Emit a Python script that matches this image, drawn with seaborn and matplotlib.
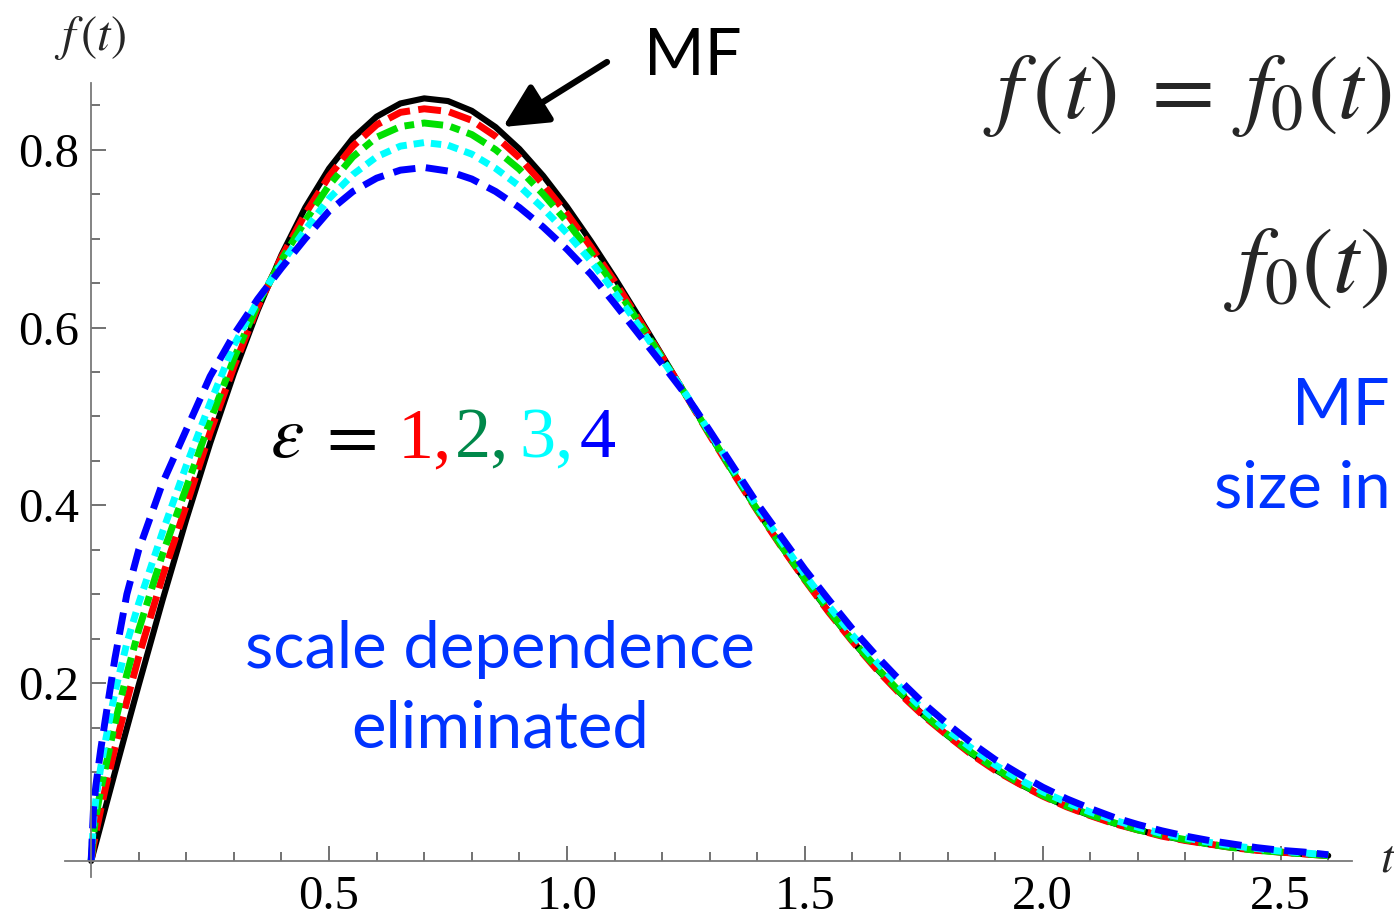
import numpy as np
import pandas as pd
import matplotlib
matplotlib.use("Agg")
import matplotlib.pyplot as plt
from matplotlib.ticker import FixedLocator, FormatStrFormatter
import seaborn as sns

# ---------------- data ----------------
t = [0.0, 0.005, 0.01, 0.02, 0.03, 0.05, 0.075, 0.1, 0.15, 0.2, 0.25, 0.3, 0.35,
     0.4, 0.45, 0.5, 0.55, 0.6, 0.65, 0.7, 0.75, 0.8, 0.85, 0.9, 0.95, 1.0,
     1.05, 1.1, 1.15, 1.2, 1.25, 1.3, 1.35, 1.4, 1.45, 1.5, 1.55, 1.6, 1.65,
     1.7, 1.75, 1.8, 1.85, 1.9, 1.95, 2.0, 2.05, 2.1, 2.15, 2.2, 2.25, 2.3,
     2.35, 2.4, 2.45, 2.5, 2.55, 2.6]

f_mf = [0.0, 0.010, 0.020, 0.040, 0.060, 0.0998, 0.1492, 0.198, 0.2933, 0.3843, 0.4697, 0.5483, 0.6193,
        0.6817, 0.7350, 0.7788, 0.8129, 0.8372, 0.8520, 0.8577, 0.8547, 0.8437, 0.8254, 0.8008, 0.7706, 0.7358,
        0.6972, 0.6561, 0.6129, 0.5686, 0.5240, 0.4797, 0.4364, 0.3944, 0.3543, 0.3162, 0.2806, 0.2473, 0.2168,
        0.1890, 0.1637, 0.1410, 0.1207, 0.1028, 0.0870, 0.0733, 0.0613, 0.0511, 0.0423, 0.0348, 0.0285, 0.0232,
        0.0188, 0.0151, 0.0121, 0.0097, 0.0077, 0.0060]

f_eps1 = [0.0, 0.018, 0.032, 0.058, 0.082, 0.127, 0.180, 0.230, 0.320, 0.400, 0.482, 0.556, 0.623,
          0.679, 0.728, 0.770, 0.804, 0.828, 0.842, 0.846, 0.843, 0.833, 0.815, 0.791, 0.761, 0.728,
          0.691, 0.652, 0.610, 0.567, 0.524, 0.479, 0.436, 0.394, 0.354, 0.316, 0.280, 0.247, 0.216,
          0.188, 0.163, 0.141, 0.120, 0.102, 0.087, 0.073, 0.061, 0.051, 0.042, 0.035, 0.028, 0.023,
          0.019, 0.015, 0.012, 0.010, 0.008, 0.006]

f_eps2 = [0.0, 0.030, 0.050, 0.080, 0.105, 0.155, 0.210, 0.260, 0.345, 0.420, 0.495, 0.565, 0.626,
          0.676, 0.720, 0.760, 0.792, 0.814, 0.826, 0.830, 0.827, 0.817, 0.800, 0.778, 0.750, 0.719,
          0.684, 0.647, 0.607, 0.566, 0.524, 0.480, 0.437, 0.395, 0.355, 0.317, 0.282, 0.248, 0.218,
          0.190, 0.165, 0.142, 0.122, 0.104, 0.088, 0.074, 0.062, 0.052, 0.043, 0.035, 0.029, 0.024,
          0.019, 0.015, 0.012, 0.010, 0.008, 0.006]

f_eps3 = [0.0, 0.045, 0.070, 0.105, 0.135, 0.190, 0.245, 0.290, 0.370, 0.445, 0.515, 0.580, 0.630,
          0.672, 0.710, 0.745, 0.772, 0.792, 0.804, 0.808, 0.805, 0.795, 0.779, 0.759, 0.734, 0.706,
          0.675, 0.640, 0.603, 0.564, 0.525, 0.482, 0.440, 0.398, 0.360, 0.322, 0.287, 0.254, 0.224,
          0.196, 0.170, 0.147, 0.127, 0.108, 0.092, 0.078, 0.066, 0.055, 0.046, 0.038, 0.031, 0.026,
          0.021, 0.017, 0.014, 0.011, 0.009, 0.007]

f_eps4 = [0.0, 0.060, 0.085, 0.125, 0.160, 0.228, 0.300, 0.350, 0.425, 0.485, 0.545, 0.592, 0.632,
          0.667, 0.700, 0.731, 0.753, 0.768, 0.777, 0.780, 0.776, 0.767, 0.753, 0.735, 0.713, 0.688,
          0.660, 0.627, 0.593, 0.559, 0.524, 0.484, 0.443, 0.402, 0.365, 0.328, 0.294, 0.261, 0.231,
          0.203, 0.177, 0.154, 0.133, 0.114, 0.098, 0.083, 0.070, 0.059, 0.049, 0.041, 0.034, 0.028,
          0.023, 0.019, 0.015, 0.012, 0.010, 0.007]

x_ticks = [0.5, 1.0, 1.5, 2.0, 2.5]
y_ticks = [0.2, 0.4, 0.6, 0.8]
eps_labels = ["1", "2", "3", "4"]

# ---------------- styling ----------------
sns.set_theme(style="white")
plt.rcParams["font.family"] = ["Liberation Serif", "DejaVu Serif"]
plt.rcParams["mathtext.fontset"] = "stix"

W, H = 1394, 917
fig = plt.figure(figsize=(W / 100, H / 100), dpi=100)
ax = fig.add_axes([65 / W, 1 - 877 / H, (1352 - 65) / W, (877 - 83) / H])

series = [
    (f_mf, "black", None, 4.4),
    (f_eps1, "#ff0000", (3.3, 1.2), 5.0),
    (f_eps2, "#00e000", (3.1, 1.1, 1.4, 1.1), 5.0),
    (f_eps3, "#00ffff", (1.5, 1.0), 5.0),
    (f_eps4, "#0000ff", (3.2, 1.5), 5.0),
]
for vals, col, dash, lw in series:
    sns.lineplot(x=t, y=vals, ax=ax, color=col, linewidth=lw, sort=False,
                 estimator=None)
    line = ax.lines[-1]
    line.set_solid_joinstyle("round")
    if dash is not None:
        line.set_dashes(dash)
        line.set_dash_capstyle("butt")

ax.set_xlim(-0.055, 2.65)
ax.set_ylim(-0.018, 0.875)

for s in ["top", "right"]:
    ax.spines[s].set_visible(False)
ax.spines["left"].set_position(("data", 0))
ax.spines["bottom"].set_position(("data", 0))
for s in ["left", "bottom"]:
    ax.spines[s].set_color("#7a7a7a")
    ax.spines[s].set_linewidth(1.3)

ax.xaxis.set_major_locator(FixedLocator(x_ticks))
ax.yaxis.set_major_locator(FixedLocator(y_ticks))
ax.xaxis.set_minor_locator(FixedLocator([v for v in np.arange(0.1, 2.65, 0.1)]))
ax.yaxis.set_minor_locator(FixedLocator([v for v in np.arange(0.05, 0.87, 0.05)]))
ax.xaxis.set_major_formatter(FormatStrFormatter("%.1f"))
ax.yaxis.set_major_formatter(FormatStrFormatter("%.1f"))
ax.tick_params(which="both", direction="in", color="#5a5a5a", width=1.2,
               labelsize=35, labelcolor="black", bottom=True, left=True,
               top=False, right=False)
ax.tick_params(which="major", length=11)
ax.tick_params(which="minor", length=6.5)
ax.tick_params(axis="y", which="major", pad=9)
ax.tick_params(axis="x", which="major", pad=10)
ax.grid(False)
ax.set_xlabel("")
ax.set_ylabel("")

def fx(px):
    return px / W

def fy(py):
    return 1 - py / H

# axis labels
fig.text(fx(54), fy(50), r"$f\,(t)$", fontsize=35, ha="left", va="baseline")
fig.text(fx(1380), fy(872), r"$t$", fontsize=34, ha="left", va="baseline")

# formulas at the top right
fig.text(fx(1391), fy(118), r"$f\,(t)\;=\;f_0(t)$", fontsize=66, ha="right", va="baseline")
fig.text(fx(1388), fy(292), r"$f_0(t)$", fontsize=68, ha="right", va="baseline")

sans = ["Lato", "DejaVu Sans"]
blue_txt = "#0033ff"

# MF label and arrow
fig.text(fx(644), fy(75), "MF", fontsize=47, family=sans, color="black",
         ha="left", va="baseline")
ax.annotate("", xy=(fx(503), fy(127)), xycoords="figure fraction",
            xytext=(fx(607), fy(62)), textcoords="figure fraction",
            arrowprops=dict(arrowstyle="-|>,head_length=0.9,head_width=0.45",
                            lw=4.5, color="black", mutation_scale=30,
                            shrinkA=0, shrinkB=0),
            annotation_clip=False)

# epsilon legend text
eps_y = fy(457)
fig.text(fx(270), eps_y, r"$\varepsilon$", fontsize=54, color="black", ha="left", va="baseline")
fig.text(fx(316), eps_y, r"$=$", fontsize=54, color="black", ha="left", va="baseline")
eps_cols = ["#ff0000", "#00884a", "#00ffff", "#0000ff"]
eps_x = [398, 455, 519, 580]
for i, (lab, col, xx) in enumerate(zip(eps_labels, eps_cols, eps_x)):
    txt = lab + ("," if i < 3 else "")
    fig.text(fx(xx), eps_y, txt, fontsize=52, color=col, ha="left", va="baseline")

# blue annotations
fig.text(fx(500), fy(668), "scale dependence", fontsize=47, family=sans,
         color=blue_txt, ha="center", va="baseline")
fig.text(fx(500), fy(747), "eliminated", fontsize=47, family=sans,
         color=blue_txt, ha="center", va="baseline")
fig.text(fx(1390), fy(425), "MF", fontsize=47, family=sans,
         color=blue_txt, ha="right", va="baseline")
fig.text(fx(1391), fy(508), "size in", fontsize=47, family=sans,
         color=blue_txt, ha="right", va="baseline")

fig.savefig("out.png", dpi=100, facecolor="white")
